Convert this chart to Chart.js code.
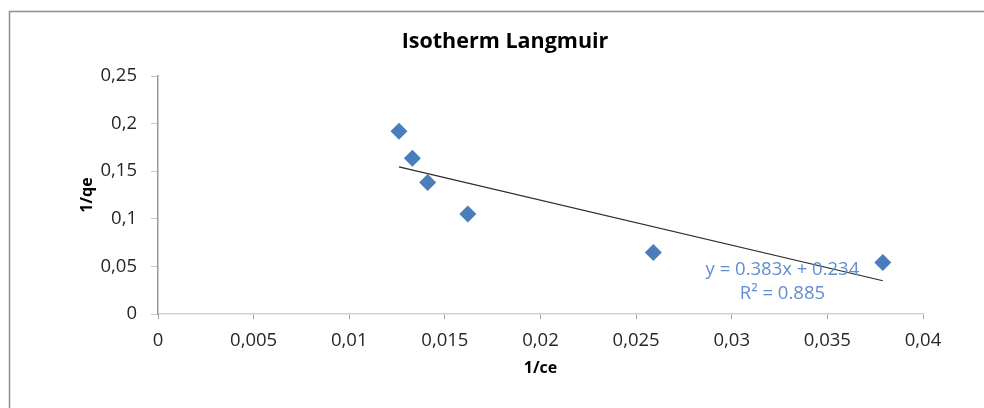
<!DOCTYPE html>
<html>
<head>
<meta charset="utf-8">
<title>Isotherm Langmuir</title>
<script src="https://cdn.jsdelivr.net/npm/chart.js@4.4.1/dist/chart.umd.min.js"></script>
<style>
  html, body { margin: 0; padding: 0; background: #fff; }
  #wrap { width: 984px; height: 408px; }
</style>
</head>
<body>
<div id="wrap"><canvas id="chart" width="984" height="408"></canvas></div>
<script>
const invCe = [0.0126, 0.0133, 0.0141, 0.0162, 0.0259, 0.0379];
const invQe = [0.192, 0.1635, 0.138, 0.105, 0.0645, 0.054];

const xTicks = [0, 0.005, 0.01, 0.015, 0.02, 0.025, 0.03, 0.035, 0.04];
const yTicks = [0, 0.05, 0.1, 0.15, 0.2, 0.25];

const equationLines = ["y = 0.383x + 0.234", "R² = 0.885"];

const FONT = "'Open Sans', 'Noto Sans', sans-serif";
const MARKER = "#4a7ebb";
const EQ_COLOR = "#5f8fd0";

// least squares line through the points, drawn across their x range
const fitLine = (xs, ys) => {
  const n = xs.length;
  const mx = xs.reduce((a, b) => a + b, 0) / n;
  const my = ys.reduce((a, b) => a + b, 0) / n;
  let sxy = 0, sxx = 0;
  xs.forEach((x, i) => {
    sxy += (x - mx) * (ys[i] - my);
    sxx += (x - mx) * (x - mx);
  });
  const slope = sxy / sxx;
  const icept = my - slope * mx;
  const lo = Math.min(...xs), hi = Math.max(...xs);
  return [lo, hi].map((x) => ({ x, y: icept + slope * x }));
};

const commaFmt = (v) => String(+Number(v).toFixed(4)).replace(".", ",");

// frame, title, axis titles and the trendline label
const decorations = {
  id: "decorations",
  afterDraw(chart) {
    const { ctx, chartArea, scales } = chart;
    ctx.save();
    ctx.strokeStyle = "#8f8f8f";
    ctx.lineWidth = 1.5;
    ctx.beginPath();
    ctx.moveTo(9.5, 420);
    ctx.lineTo(9.5, 11.5);
    ctx.lineTo(1000, 11.5);
    ctx.stroke();

    ctx.fillStyle = "#000";
    ctx.textAlign = "center";
    ctx.textBaseline = "middle";
    ctx.font = "bold 21.5px " + FONT;
    ctx.fillText("Isotherm Langmuir", 505, 42);

    ctx.font = "bold 16px " + FONT;
    ctx.fillText("1/ce", (chartArea.left + chartArea.right) / 2, 368);
    ctx.save();
    ctx.translate(87, (chartArea.top + chartArea.bottom) / 2);
    ctx.rotate(-Math.PI / 2);
    ctx.fillText("1/qe", 0, 0);
    ctx.restore();

    ctx.fillStyle = EQ_COLOR;
    ctx.font = "18.5px " + FONT;
    const ex = scales.x.getPixelForValue(0.03265);
    ctx.fillText(equationLines[0], ex, scales.y.getPixelForValue(0.046));
    ctx.fillText(equationLines[1], ex, scales.y.getPixelForValue(0.021));
    ctx.restore();
  },
};

new Chart(document.getElementById("chart"), {
  type: "scatter",
  data: {
    datasets: [
      {
        label: "1/qe",
        data: invCe.map((x, i) => ({ x, y: invQe[i] })),
        pointStyle: "rectRot",
        pointRadius: 8.5,
        pointHoverRadius: 8.5,
        backgroundColor: MARKER,
        borderColor: MARKER,
        borderWidth: 0,
        order: 1,
      },
      {
        label: "trend",
        type: "line",
        data: fitLine(invCe, invQe),
        borderColor: "#2b2b2b",
        borderWidth: 1.2,
        pointRadius: 0,
        fill: false,
        order: 2,
      },
    ],
  },
  options: {
    responsive: false,
    animation: false,
    layout: { padding: { top: 76, right: 61, left: 0, bottom: 0 } },
    plugins: {
      legend: { display: false },
      tooltip: { enabled: false },
      title: { display: false },
    },
    scales: {
      x: {
        type: "linear",
        min: 0,
        max: 0.04,
        afterBuildTicks: (scale) => {
          scale.ticks = xTicks.map((value) => ({ value }));
        },
        afterFit: (scale) => {
          scale.height = 94;
        },
        ticks: {
          callback: commaFmt,
          color: "#262626",
          font: { family: FONT, size: 18.5 },
          padding: 11,
          maxRotation: 0,
        },
        grid: {
          drawOnChartArea: false,
          tickLength: 5,
          color: "#a0a0a0",
        },
        border: { display: true, color: "#d3d3d3", width: 1.5 },
      },
      y: {
        type: "linear",
        min: 0,
        max: 0.25,
        afterBuildTicks: (scale) => {
          scale.ticks = yTicks.map((value) => ({ value }));
        },
        afterFit: (scale) => {
          scale.width = 158;
        },
        ticks: {
          callback: commaFmt,
          color: "#262626",
          font: { family: FONT, size: 18.5 },
          padding: 14,
        },
        grid: {
          drawOnChartArea: false,
          tickLength: 7,
          color: "#c8c8c8",
        },
        border: { display: true, color: "#9a9a9a", width: 1.5 },
      },
    },
  },
  plugins: [decorations],
});
</script>
</body>
</html>
